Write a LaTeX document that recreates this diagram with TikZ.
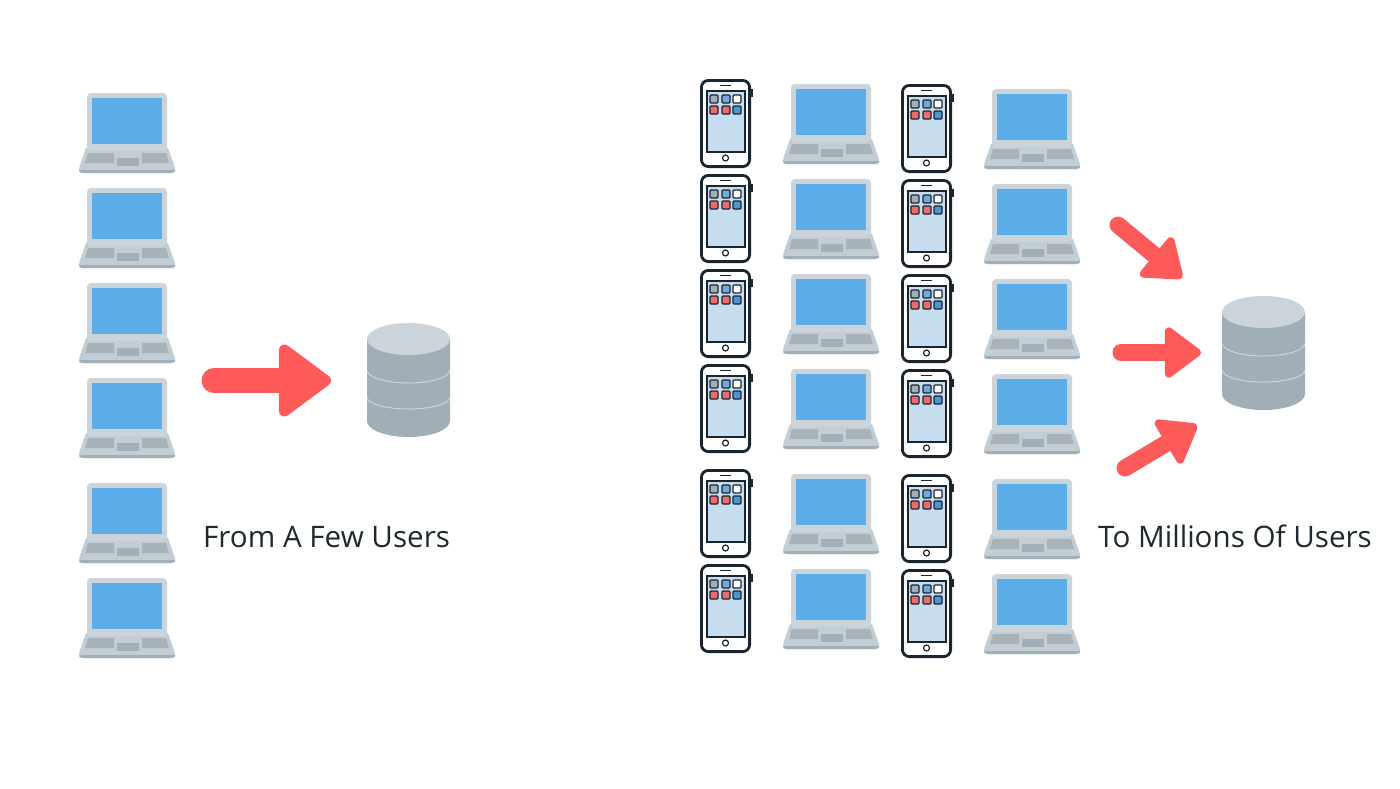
\documentclass[tikz,border=0pt]{standalone}
\usepackage{fontspec}
\setmainfont{Open Sans}
\usetikzlibrary{arrows.meta}
\definecolor{lidgray}{HTML}{CBD4DB}
\definecolor{basegray}{HTML}{C3CDD4}
\definecolor{screenblue}{HTML}{5DADE8}
\definecolor{keygray}{HTML}{A8B2B9}
\definecolor{edgegray}{HTML}{A3AFB8}
\definecolor{bodygray}{HTML}{A0AEB6}
\definecolor{phonedark}{HTML}{1B2530}
\definecolor{phonescreen}{HTML}{C5DDEF}
\definecolor{iconred}{HTML}{EE6B6B}
\definecolor{iconblue}{HTML}{4F95D0}
\definecolor{arrowred}{HTML}{FF5A5A}
\definecolor{labeltext}{HTML}{1E2A30}
\tikzstyle{label} = [anchor=base west, inner sep=0pt, text=labeltext, font=\fontsize{29.6}{35}\selectfont]
\tikzstyle{bigarrow} = [arrowred, line width=25pt, line cap=round, -{Triangle[length=56pt,width=80pt,line width=11pt,round]}]
\tikzstyle{smallarrow} = [arrowred, line width=17pt, line cap=round, -{Triangle[length=39pt,width=56pt,line width=8pt,round]}]
\tikzstyle{appicon} = [draw=phonedark, line width=1.1pt, rounded corners=1pt]
\tikzset{
  laptop/.pic={
    % base, then lid (origin is the top centre of the lid)
    \fill [basegray] (-41,55) -- (41,55) -- (48,75) [rounded corners=2pt] -- (48,80) -- (-48,80) -- (-48,75) [sharp corners] -- cycle;
    \fill [edgegray] (-48,77) -- (48,77) -- (48,78) [rounded corners=2pt] -- (46,80) -- (-46,80) -- (-48,78) [sharp corners] -- cycle;
    \fill [lidgray, rounded corners=4pt] (-40,0) rectangle (40,58);
    \fill [screenblue] (-35,5) rectangle (35,51);
    \fill [keygray] (-39,60) -- (-13,60) -- (-13,70) -- (-42,70) -- cycle;
    \fill [keygray] (15,60) -- (39,60) -- (42,70) -- (15,70) -- cycle;
    \fill [edgegray] (-10,65) rectangle (12,73);
  },
  phone/.pic={
    % origin is the top left corner of the case
    \fill [phonedark] (49,10) rectangle (52.5,18);
    \draw [phonedark, fill=white, line width=2.8pt, rounded corners=7pt] (1.4,1.4) rectangle (49.6,87.6);
    \draw [phonedark, fill=phonescreen, line width=1.5pt] (7,12) rectangle (45,73);
    \draw [phonedark, line width=1.2pt] (20,6.5) -- (31,6.5);
    \draw [phonedark, fill=white, line width=1.2pt] (25.5,79) circle (3);
    \filldraw [appicon, fill=edgegray] (10,16) rectangle (18,24);
    \filldraw [appicon, fill=iconblue!80] (22,16) rectangle (30,24);
    \filldraw [appicon, fill=white] (33,16) rectangle (41,24);
    \filldraw [appicon, fill=iconred] (10,27) rectangle (18,35);
    \filldraw [appicon, fill=iconred] (22,27) rectangle (30,35);
    \filldraw [appicon, fill=iconblue] (33,27) rectangle (41,35);
  },
  database/.pic={
    % origin is the centre of the top face
    \fill [bodygray] (-41.5,0) -- (-41.5,82) arc [start angle=180, end angle=0, x radius=41.5, y radius=16] -- (41.5,0) -- cycle;
    \fill [lidgray] (0,0) ellipse [x radius=41.5, y radius=16];
    \draw [lidgray, line width=1pt] (-41.5,31) arc [start angle=180, end angle=0, x radius=41.5, y radius=13];
    \draw [lidgray, line width=1pt] (-41.5,58) arc [start angle=180, end angle=0, x radius=41.5, y radius=12];
  }
}
\begin{document}
\begin{tikzpicture}[x=1pt,y=-1pt]
    \useasboundingbox (0,0) rectangle (1400,788);

    % few users
    \pic (lapA) at (127,93) {laptop};
    \pic (lapB) at (127,188) {laptop};
    \pic (lapC) at (127,283) {laptop};
    \pic (lapD) at (127,378) {laptop};
    \pic (lapE) at (127,483) {laptop};
    \pic (lapF) at (127,578) {laptop};
    \pic (dbFew) at (408.5,339) {database};
    \coordinate (fewStart) at (214,380.5);
    \coordinate (fewEnd) at (331,380.5);
    \draw [bigarrow] (fewStart) -- (fewEnd);
    \node (fewLabel) [label] at (203,547) {From A Few Users};

    % millions of users
    \pic (phoneA) at (700,79) {phone};
    \pic (phoneB) at (700,174) {phone};
    \pic (phoneC) at (700,269) {phone};
    \pic (phoneD) at (700,364) {phone};
    \pic (phoneE) at (700,469) {phone};
    \pic (phoneF) at (700,564) {phone};
    \pic (lapG) at (831,84) {laptop};
    \pic (lapH) at (831,179) {laptop};
    \pic (lapI) at (831,274) {laptop};
    \pic (lapJ) at (831,369) {laptop};
    \pic (lapK) at (831,474) {laptop};
    \pic (lapL) at (831,569) {laptop};
    \pic (phoneG) at (901,84) {phone};
    \pic (phoneH) at (901,179) {phone};
    \pic (phoneI) at (901,274) {phone};
    \pic (phoneJ) at (901,369) {phone};
    \pic (phoneK) at (901,474) {phone};
    \pic (phoneL) at (901,569) {phone};
    \pic (lapM) at (1032,89) {laptop};
    \pic (lapN) at (1032,184) {laptop};
    \pic (lapO) at (1032,279) {laptop};
    \pic (lapP) at (1032,374) {laptop};
    \pic (lapQ) at (1032,479) {laptop};
    \pic (lapR) at (1032,574) {laptop};
    \pic (dbMany) at (1263.5,312) {database};
    \coordinate (topStart) at (1118,225);
    \coordinate (topEnd) at (1182,278);
    \coordinate (midStart) at (1121,352.5);
    \coordinate (midEnd) at (1201,352.5);
    \coordinate (lowStart) at (1125,468);
    \coordinate (lowEnd) at (1197,425);
    \draw [smallarrow] (topStart) -- (topEnd);
    \draw [smallarrow] (midStart) -- (midEnd);
    \draw [smallarrow] (lowStart) -- (lowEnd);
    \node (manyLabel) [label] at (1098,547) {To Millions Of Users};
\end{tikzpicture}
\end{document}
